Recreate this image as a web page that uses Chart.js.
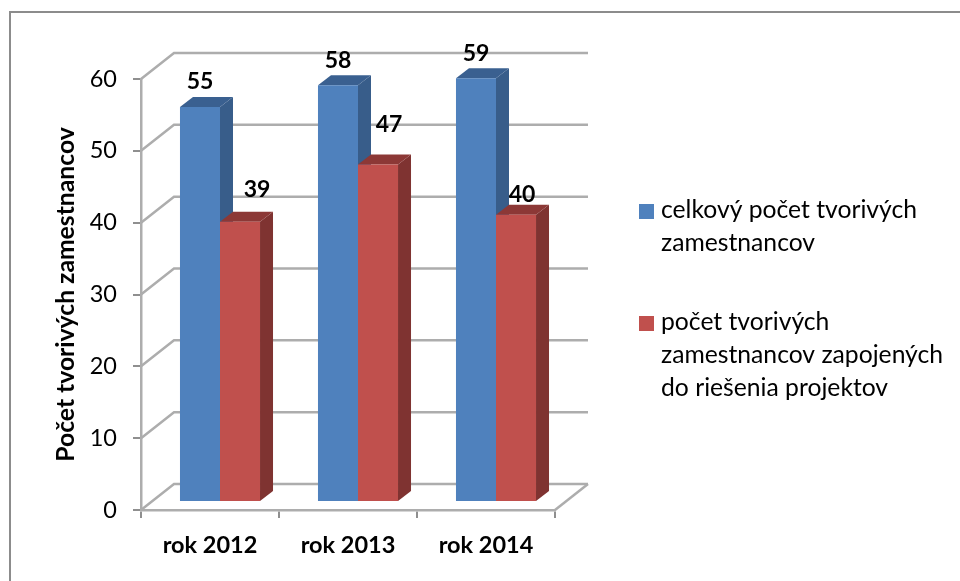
<!DOCTYPE html>
<html>
<head>
<meta charset="utf-8">
<script src="https://cdn.jsdelivr.net/npm/chart.js@4/dist/chart.umd.min.js"></script>
<style>
    html, body { margin: 0; padding: 0; background: #fff; overflow: hidden; }
    #wrap { position: relative; width: 960px; height: 581px; }
    #frame { position: absolute; left: 9px; top: 11px; right: 0; bottom: 0; border-top: 2px solid #8c8c8c; border-left: 2px solid #8c8c8c; }
    canvas { position: absolute; left: 0; top: 0; }
</style>
</head>
<body>
<div id="wrap">
    <div id="frame"></div>
    <canvas id="chart" width="960" height="581"></canvas>
</div>
<script>
const categories = ['rok 2012', 'rok 2013', 'rok 2014'];
const totalStaff = [55, 58, 59];
const projectStaff = [39, 47, 40];
const yTitle = 'Počet tvorivých zamestnancov';
const totalLabel = ['celkový počet tvorivých', 'zamestnancov'];
const projectLabel = ['počet tvorivých', 'zamestnancov zapojených', 'do riešenia projektov'];

const FONT = 'Lato, "Open Sans", sans-serif';
const GRID = '#adadad';
const WALL = { dx: 33, dy: -26 };   // back wall offset
const BAR_SHIFT = { dx: 10, dy: -8 };   // bars stand a bit inside the floor
const BAR_DEPTH = { dx: 13, dy: -10 };

// hand placed value labels, the original has them moved around
const labelNudge = [
    [[0, -25], [0, -25], [0, -25]],
    [[17, -32], [11, -40], [6, -20]]
];

// grid walls, floor and bar sides, everything behind the front faces
const walls = {
    id: 'walls',
    beforeDatasetsDraw(chart) {
        const { ctx, chartArea: a, scales: { y } } = chart;
        ctx.save();
        ctx.strokeStyle = GRID;
        ctx.lineWidth = 2.5;
        y.ticks.forEach(t => {
            const py = y.getPixelForValue(t.value);
            ctx.beginPath();
            ctx.moveTo(a.left, py);
            ctx.lineTo(a.left + WALL.dx, py + WALL.dy);
            ctx.lineTo(a.right + WALL.dx, py + WALL.dy);
            ctx.stroke();
        });
        ctx.beginPath();
        ctx.moveTo(a.right, a.bottom);
        ctx.lineTo(a.right + WALL.dx, a.bottom + WALL.dy);
        ctx.stroke();
        ctx.restore();

        // front faces get drawn by chart.js in this shifted space
        ctx.save();
        ctx.translate(BAR_SHIFT.dx, BAR_SHIFT.dy);
        chart.data.datasets.forEach((ds, i) => {
            chart.getDatasetMeta(i).data.forEach(bar => {
                const l = bar.x - bar.width / 2;
                const r = bar.x + bar.width / 2;
                ctx.fillStyle = ds.sideColor;
                ctx.beginPath();
                ctx.moveTo(r, bar.y);
                ctx.lineTo(r + BAR_DEPTH.dx, bar.y + BAR_DEPTH.dy);
                ctx.lineTo(r + BAR_DEPTH.dx, bar.base + BAR_DEPTH.dy);
                ctx.lineTo(r, bar.base);
                ctx.closePath();
                ctx.fill();
                ctx.fillStyle = ds.topColor;
                ctx.beginPath();
                ctx.moveTo(l, bar.y);
                ctx.lineTo(l + BAR_DEPTH.dx, bar.y + BAR_DEPTH.dy);
                ctx.lineTo(r + BAR_DEPTH.dx, bar.y + BAR_DEPTH.dy);
                ctx.lineTo(r, bar.y);
                ctx.closePath();
                ctx.fill();
            });
        });
    },
    afterDatasetsDraw(chart) {
        const { ctx } = chart;
        ctx.restore();

        // value labels
        ctx.save();
        ctx.fillStyle = '#000';
        ctx.font = 'bold 23px ' + FONT;
        ctx.textAlign = 'center';
        ctx.textBaseline = 'middle';
        chart.data.datasets.forEach((ds, i) => {
            chart.getDatasetMeta(i).data.forEach((bar, j) => {
                const n = labelNudge[i][j];
                ctx.fillText(ds.data[j], bar.x + BAR_SHIFT.dx + n[0], bar.y + BAR_SHIFT.dy + n[1]);
            });
        });
        ctx.restore();
    }
};

// legend with wrapped text, box lined up with the first row
const sideLegend = {
    id: 'sideLegend',
    afterDraw(chart) {
        const { ctx } = chart;
        const rowGap = 33;
        ctx.save();
        ctx.font = '24.7px ' + FONT;
        ctx.textBaseline = 'alphabetic';
        ctx.textAlign = 'left';
        let base = 218;
        chart.data.datasets.forEach(ds => {
            ctx.fillStyle = ds.backgroundColor;
            ctx.fillRect(639, base - 14, 15, 15);
            ctx.fillStyle = '#000';
            ds.label.forEach(line => {
                ctx.fillText(line, 661, base);
                base += rowGap;
            });
            base += 46;
        });
        ctx.restore();
    }
};

new Chart(document.getElementById('chart'), {
    type: 'bar',
    data: {
        labels: categories,
        datasets: [
            { label: totalLabel, data: totalStaff, backgroundColor: '#4f81bd', sideColor: '#385d8a', topColor: '#3a6090', clip: false },
            { label: projectLabel, data: projectStaff, backgroundColor: '#c0504d', sideColor: '#7f3331', topColor: '#8c3836', clip: false }
        ]
    },
    options: {
        responsive: false,
        animation: false,
        events: [],
        layout: { autoPadding: false, padding: { left: 0, top: 79, right: 405, bottom: 0 } },
        datasets: { bar: { barPercentage: 1, categoryPercentage: 0.58 } },
        plugins: { legend: { display: false }, tooltip: { enabled: false }, title: { display: false } },
        scales: {
            x: {
                afterFit(scale) { scale.height = 71; },
                grid: { offset: true, drawOnChartArea: false, drawTicks: true, tickLength: 8, color: '#8f8f8f', lineWidth: 2 },
                border: { color: GRID, width: 2.5 },
                ticks: { color: '#000', font: { family: FONT, size: 23.5, weight: 'bold' }, padding: 13, maxRotation: 0 }
            },
            y: {
                min: 0,
                max: 60,
                afterFit(scale) { scale.width = 141; },
                grid: { drawOnChartArea: false, drawTicks: true, tickLength: 8, color: '#8f8f8f', lineWidth: 2 },
                border: { color: GRID, width: 2.5 },
                ticks: { stepSize: 10, color: '#000', font: { family: FONT, size: 23.5 }, padding: 16 },
                title: {
                    display: true,
                    text: yTitle,
                    color: '#000',
                    font: { family: FONT, size: 24.7, weight: 'bold' },
                    padding: { top: 51, bottom: 0 }
                }
            }
        }
    },
    plugins: [walls, sideLegend]
});
</script>
</body>
</html>
